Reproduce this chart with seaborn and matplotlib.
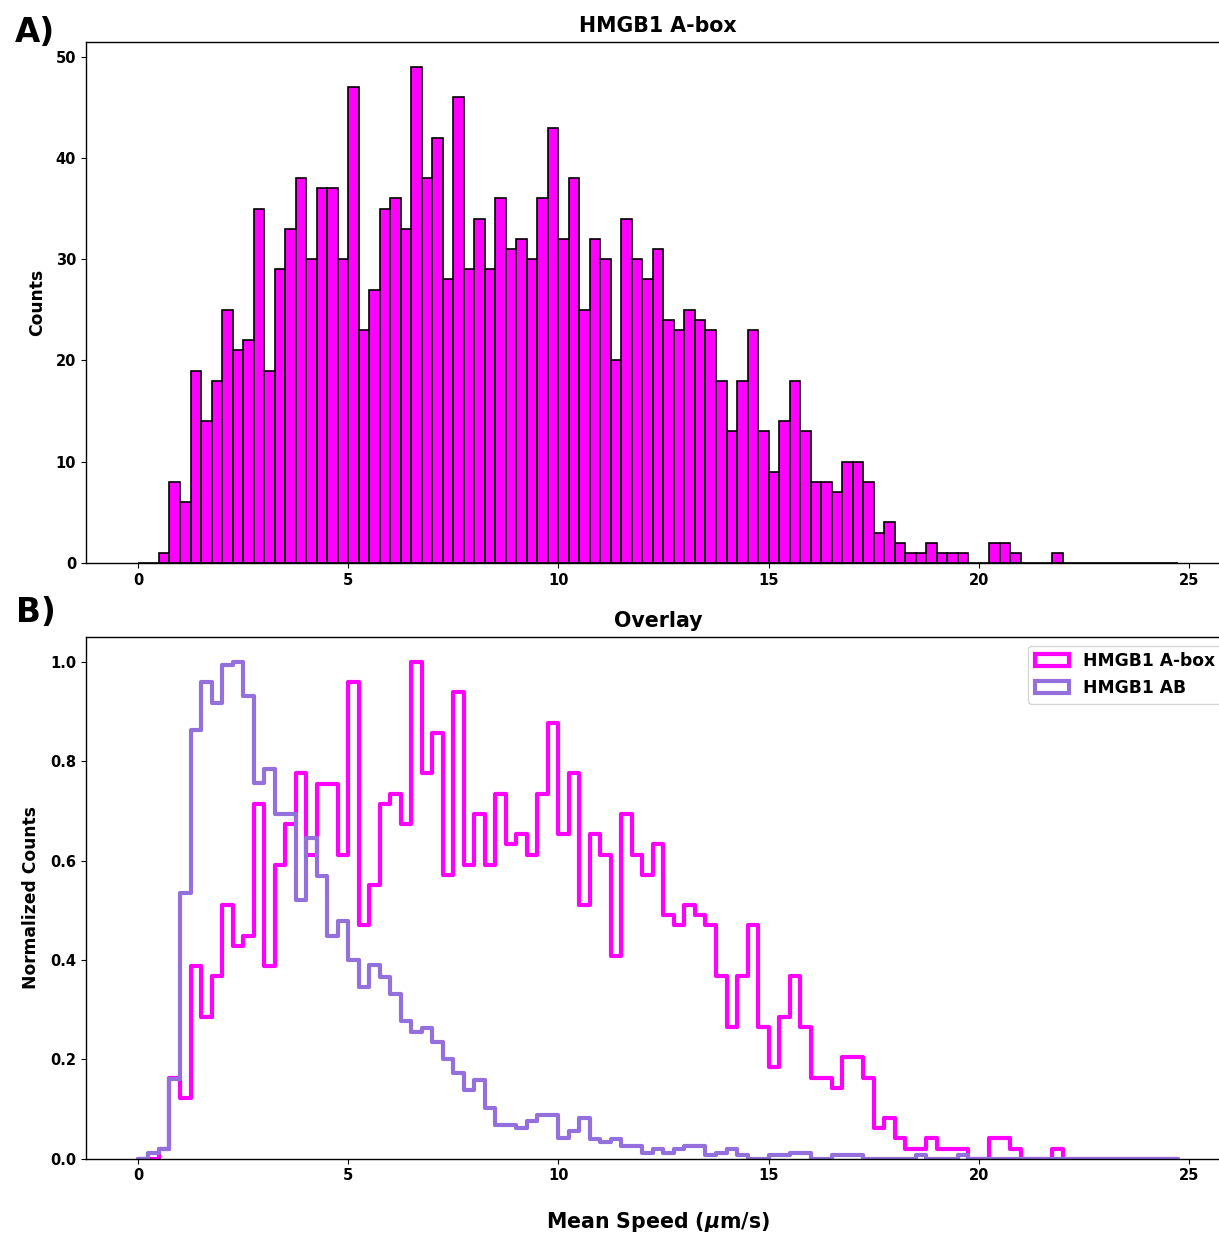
import numpy as np
import pandas as pd
import matplotlib
matplotlib.use("Agg")
import matplotlib.pyplot as plt
from matplotlib.patches import Patch
import seaborn as sns

# ---------------- data ----------------
bin_width = 0.25
bin_range = (0.0, 24.75)
bin_centers = np.arange(bin_range[0], bin_range[1], bin_width) + bin_width / 2

abox_counts = [
    0, 0, 1, 8, 6, 19, 14, 18, 25, 21, 22, 35, 19, 29, 33, 38, 30, 37, 37, 30,
    47, 23, 27, 35, 36, 33, 49, 38, 42, 28, 46, 29, 34, 29, 36, 31, 32, 30, 36, 43,
    32, 38, 25, 32, 30, 20, 34, 30, 28, 31, 24, 23, 25, 24, 23, 18, 13, 18, 23, 13,
    9, 14, 18, 13, 8, 8, 7, 10, 10, 8, 3, 4, 2, 1, 1, 2, 1, 1, 1, 0,
    0, 2, 2, 1, 0, 0, 0, 1, 0, 0, 0, 0, 0, 0, 0, 0, 0, 0, 0,
]

ab_normalized = [
    0.0, 0.012, 0.019, 0.16, 0.534, 0.862, 0.959, 0.918, 0.993, 1.0,
    0.932, 0.757, 0.785, 0.694, 0.694, 0.52, 0.646, 0.569, 0.449, 0.479,
    0.40, 0.346, 0.39, 0.366, 0.332, 0.277, 0.255, 0.264, 0.235, 0.20,
    0.172, 0.138, 0.158, 0.102, 0.068, 0.068, 0.061, 0.075, 0.089, 0.089,
    0.041, 0.055, 0.082, 0.04, 0.033, 0.04, 0.026, 0.026, 0.012, 0.019,
    0.012, 0.019, 0.026, 0.026, 0.007, 0.012, 0.019, 0.007, 0.0, 0.0,
    0.007, 0.007, 0.012, 0.012, 0.0, 0.0, 0.007, 0.007, 0.007, 0.0,
    0.0, 0.0, 0.0, 0.0, 0.007, 0.0, 0.0, 0.0, 0.007, 0.0,
    0.0, 0.0, 0.0, 0.0, 0.0, 0.0, 0.0, 0.0, 0.0, 0.0,
    0.0, 0.0, 0.0, 0.0, 0.0, 0.0, 0.0, 0.0, 0.0,
]

series_labels = ["HMGB1 A-box", "HMGB1 AB"]
series_colors = ["#ff00ff", "mediumpurple"]

abox_arr = np.array(abox_counts, dtype=float)
df = pd.DataFrame({
    "speed": bin_centers,
    "abox": abox_arr,
    "abox_norm": abox_arr / abox_arr.max(),
    "ab_norm": np.array(ab_normalized, dtype=float),
})

# ---------------- style ----------------
sns.set_style("ticks")
plt.rcParams["font.family"] = ["DejaVu Sans"]
plt.rcParams["font.weight"] = "bold"
plt.rcParams["axes.labelweight"] = "bold"
plt.rcParams["axes.titleweight"] = "bold"
plt.rcParams["xtick.labelsize"] = 10.5
plt.rcParams["ytick.labelsize"] = 10.5
plt.rcParams["text.color"] = "black"
plt.rcParams["axes.labelcolor"] = "black"
plt.rcParams["xtick.color"] = "black"
plt.rcParams["ytick.color"] = "black"
plt.rcParams["axes.edgecolor"] = "black"

fig = plt.figure(figsize=(12.19, 12.34), dpi=100)
ax1 = fig.add_axes([0.0705, 0.5438, 0.9389, 0.4222])
ax2 = fig.add_axes([0.0705, 0.0610, 0.9389, 0.4228])

# ---------------- A) histogram ----------------
sns.histplot(data=df, x="speed", weights="abox",
             binwidth=bin_width, binrange=bin_range,
             color=series_colors[0], edgecolor="black", linewidth=1.2,
             alpha=1, ax=ax1)
ax1.set_title("HMGB1 A-box", fontsize=14.8, pad=7, color="black")
ax1.set_ylabel("Counts", fontsize=12.3, labelpad=7)
ax1.set_xlabel("")
ax1.set_xlim(-1.2375, 25.9875)
ax1.set_ylim(0, 51.45)

# ---------------- B) overlay ----------------
sns.histplot(data=df, x="speed", weights="abox_norm",
             binwidth=bin_width, binrange=bin_range,
             element="step", fill=False, color=series_colors[0],
             linewidth=3, ax=ax2)
sns.histplot(data=df, x="speed", weights="ab_norm",
             binwidth=bin_width, binrange=bin_range,
             element="step", fill=False, color=series_colors[1],
             linewidth=3, ax=ax2)
ax2.set_title("Overlay", fontsize=14.8, pad=7, color="black")
ax2.set_ylabel("Normalized Counts", fontsize=12.3, labelpad=7)
ax2.set_xlabel(r"Mean Speed ($\mu$m/s)", fontsize=14.8, labelpad=19)
ax2.set_xlim(-1.2375, 25.9875)
ax2.set_ylim(0, 1.05)
ax2.set_yticks([0.0, 0.2, 0.4, 0.6, 0.8, 1.0])

handles = [Patch(facecolor="none", edgecolor=c, linewidth=3, label=l)
           for c, l in zip(series_colors, series_labels)]
leg = ax2.legend(handles=handles, loc="upper right",
                 prop={"size": 12.3, "weight": "bold"})
for t in leg.get_texts():
    t.set_color("black")

for ax in (ax1, ax2):
    for s in ax.spines.values():
        s.set_linewidth(1.0)
        s.set_color("black")
    ax.tick_params(colors="black", labelcolor="black")

fig.text(0.0123, 0.9662, "A)", fontsize=23.5, fontweight="bold",
         va="baseline", color="black")
fig.text(0.0130, 0.4962, "B)", fontsize=23.5, fontweight="bold",
         va="baseline", color="black")

fig.savefig("out.png", dpi=100)
